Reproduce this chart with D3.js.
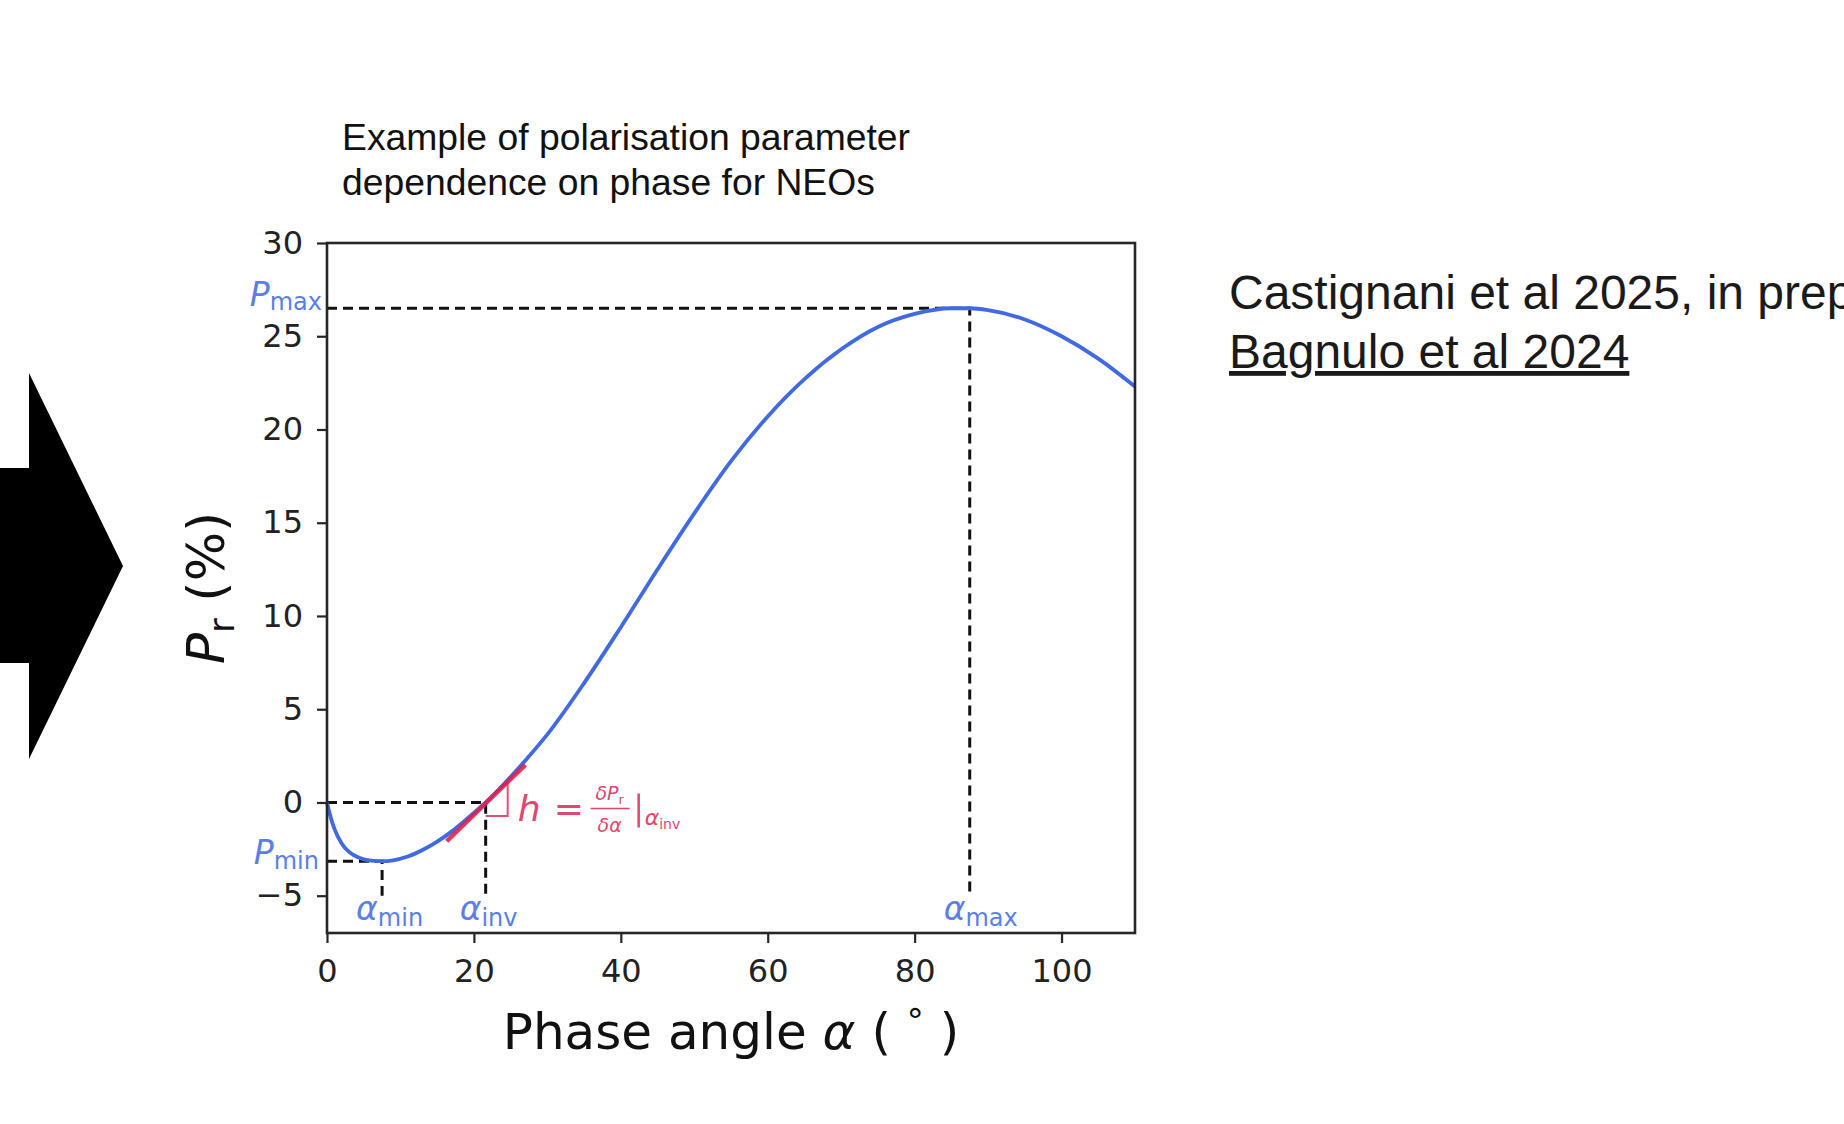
<!DOCTYPE html>
<html>
<head>
<meta charset="utf-8">
<script src="https://cdn.jsdelivr.net/npm/d3@7"></script>
<style>
  body { margin: 0; background: #fff; }
  svg { display: block; }
</style>
</head>
<body>
<div class="graph"></div>
<script>
const width = 1844,
      height = 1124;

// curve
const phaseAngle   = [0, 0.5, 1, 2, 3, 4, 5, 6, 7.5, 9, 11, 13, 15, 17, 19, 21.6, 24, 27, 30, 35, 40, 45, 50, 55, 60, 65, 70, 75, 80, 85, 87.5, 90, 95, 100, 105, 110];
const polarisation = [0, -0.8, -1.4, -2.2, -2.65, -2.9, -3.05, -3.12, -3.15, -3.1, -2.9, -2.55, -2.1, -1.55, -0.9, 0, 0.95, 2.25, 3.65, 6.4, 9.4, 12.5, 15.5, 18.3, 20.7, 22.7, 24.3, 25.5, 26.2, 26.5, 26.5, 26.4, 25.9, 25.0, 23.8, 22.3];

const xTicks = [0, 20, 40, 60, 80, 100];
const yTicks = [-5, 0, 5, 10, 15, 20, 25, 30];

// marked parameters
const alphaMin = 7.5,  pMin = -3.15;
const alphaInv = 21.6;
const alphaMax = 87.5, pMax = 26.5;
const guideBottom = -5;

// tangent at the inversion angle
const tangentAlpha = [16.3, 27.0];
const tangentP     = [-2.08, 2.02];
const cornerAlpha  = [alphaInv, 24.6, 24.6];
const cornerP      = [-0.73, -0.73, 1.1];

const titleLines = ["Example of polarisation parameter", "dependence on phase for NEOs"];
const refLines   = ["Castignani et al 2025, in prep", "Bagnulo et al 2024"];

const blue = "#4169e1",
      labelBlue = "#5b7fe6",
      red = "#e0204e",
      axisColor = "#262626";

const margin = { left: 327, right: 1135, top: 243, bottom: 933 };

const svg = d3.select(".graph")
  .append("svg")
  .attr("width", width)
  .attr("height", height)
  .style("background", "#fff");

// big arrow on the left edge
svg.append("path")
  .attr("d", "M0,468 L29,468 L29,373 L123,566 L29,759 L29,663 L0,663 Z")
  .attr("fill", "#000");

const xScale = d3.scaleLinear().domain([0, 110]).range([margin.left, margin.right]);
const yScale = d3.scaleLinear().domain([-7, 30]).range([margin.bottom, margin.top]);

const line = d3.line()
  .x(d => xScale(d[0]))
  .y(d => yScale(d[1]));

// dashed guides
const guides = [
  [[0, pMax], [alphaMax, pMax], [alphaMax, guideBottom]],
  [[0, pMin], [alphaMin, pMin], [alphaMin, guideBottom]],
  [[0, 0], [alphaInv, 0], [alphaInv, guideBottom]]
];
svg.selectAll(".guide")
  .data(guides)
  .enter()
  .append("path")
  .attr("class", "guide")
  .attr("d", line)
  .attr("fill", "none")
  .attr("stroke", "#111")
  .attr("stroke-width", 3)
  .attr("stroke-dasharray", "10,6");

// the curve
const curve = phaseAngle.map((a, i) => [a, polarisation[i]]);
svg.append("path")
  .datum(curve)
  .attr("d", line.curve(d3.curveMonotoneX))
  .attr("fill", "none")
  .attr("stroke", blue)
  .attr("stroke-width", 3.8);
line.curve(d3.curveLinear);

// tangent + right angle marker
svg.append("path")
  .datum(tangentAlpha.map((a, i) => [a, tangentP[i]]))
  .attr("d", line)
  .attr("stroke", red)
  .attr("stroke-width", 4.5)
  .attr("stroke-opacity", 0.9);
svg.append("path")
  .datum(cornerAlpha.map((a, i) => [a, cornerP[i]]))
  .attr("d", line)
  .attr("fill", "none")
  .attr("stroke", red)
  .attr("stroke-opacity", 0.8)
  .attr("stroke-width", 2);

// frame
svg.append("rect")
  .attr("x", margin.left)
  .attr("y", margin.top)
  .attr("width", margin.right - margin.left)
  .attr("height", margin.bottom - margin.top)
  .attr("fill", "none")
  .attr("stroke", axisColor)
  .attr("stroke-width", 2.6);

const xAxis = d3.axisBottom(xScale).tickValues(xTicks).tickSize(10).tickPadding(16);
const yAxis = d3.axisLeft(yScale).tickValues(yTicks).tickSize(10).tickPadding(14)
  .tickFormat(d => d < 0 ? "\u2212" + Math.abs(d) : d);

svg.append("g")
  .attr("id", "x-axis")
  .attr("transform", `translate(0, ${margin.bottom})`)
  .call(xAxis);
svg.append("g")
  .attr("id", "y-axis")
  .attr("transform", `translate(${margin.left}, 0)`)
  .call(yAxis);

svg.selectAll("#x-axis, #y-axis")
  .call(g => g.select(".domain").remove())
  .call(g => g.selectAll(".tick line").attr("stroke", axisColor).attr("stroke-width", 2.2))
  .call(g => g.selectAll(".tick text")
    .attr("fill", "#222")
    .style("font-family", "'DejaVu Sans'")
    .style("font-size", "32px"));

// axis titles
const xLabel = svg.append("text")
  .attr("x", (margin.left + margin.right) / 2)
  .attr("y", 1049)
  .attr("text-anchor", "middle")
  .attr("fill", "#111")
  .style("font-family", "'DejaVu Sans'")
  .style("font-size", "50px");
xLabel.append("tspan").text("Phase angle ");
xLabel.append("tspan").attr("font-style", "italic").text("\u03b1");
xLabel.append("tspan").text(" ( ");
xLabel.append("tspan").attr("dy", -16).style("font-size", "34px").text("\u00b0");
xLabel.append("tspan").attr("dy", 16).text(" )");

const yLabel = svg.append("text")
  .attr("transform", `translate(224, ${(margin.top + margin.bottom) / 2}) rotate(-90)`)
  .attr("text-anchor", "middle")
  .attr("fill", "#111")
  .style("font-family", "'DejaVu Sans'")
  .style("font-size", "52px");
yLabel.append("tspan").attr("font-style", "italic").text("P");
yLabel.append("tspan").attr("dy", 10).style("font-size", "36px").text("r");
yLabel.append("tspan").attr("dy", -10).text(" (%)");

// blue parameter labels
function subLabel(x, y, main, sub, anchor, italicMain, subDy) {
  const t = svg.append("text")
    .attr("x", x)
    .attr("y", y)
    .attr("text-anchor", anchor)
    .attr("fill", labelBlue)
    .style("font-family", "'DejaVu Sans'")
    .style("font-size", "33px");
  t.append("tspan").attr("font-style", italicMain ? "italic" : null).text(main);
  t.append("tspan").attr("dy", subDy).style("font-size", "24px").text(sub);
  return t;
}
subLabel(margin.left - 5, yScale(pMax) - 2, "P", "max", "end", true, 4);
subLabel(margin.left - 8, yScale(pMin) + 3, "P", "min", "end", true, 5);
[[alphaMin, "min"], [alphaInv, "inv"], [alphaMax, "max"]].forEach(([a, s]) => {
  subLabel(xScale(a) - 26, yScale(-6.3), "\u03b1", s, "start", true, 6);
});

// formula for h
const fx = xScale(alphaInv) + 32,
      fy = yScale(0) + 19;
const red2 = "#e2456f";
const formula = svg.append("g").attr("fill", red2).style("font-family", "'DejaVu Sans'");
formula.append("text").attr("x", fx).attr("y", fy).attr("font-style", "italic").style("font-size", "36px").text("h");
formula.append("text").attr("x", fx + 36).attr("y", fy).style("font-size", "36px").text("=");
const num = formula.append("text").attr("x", fx + 92).attr("y", fy - 21).attr("text-anchor", "middle").style("font-size", "19px");
num.append("tspan").attr("font-style", "italic").text("\u03b4P");
num.append("tspan").attr("dy", 4).style("font-size", "13px").text("r");
formula.append("text").attr("x", fx + 92).attr("y", fy + 11).attr("text-anchor", "middle").attr("font-style", "italic").style("font-size", "19px").text("\u03b4\u03b1");
formula.append("line")
  .attr("x1", fx + 73).attr("x2", fx + 112)
  .attr("y1", fy - 13).attr("y2", fy - 13)
  .attr("stroke", red2).attr("stroke-width", 1.5);
formula.append("line")
  .attr("x1", fx + 121).attr("x2", fx + 121)
  .attr("y1", fy - 28).attr("y2", fy + 6)
  .attr("stroke", red2).attr("stroke-width", 2.5);
const sub = formula.append("text").attr("x", fx + 127).attr("y", fy + 4).style("font-size", "22px");
sub.append("tspan").attr("font-style", "italic").text("\u03b1");
sub.append("tspan").attr("dy", 4).style("font-size", "14px").text("inv");

// title
svg.append("g")
  .selectAll("text")
  .data(titleLines)
  .enter()
  .append("text")
  .attr("x", 342)
  .attr("y", (d, i) => 150 + i * 45)
  .attr("fill", "#111")
  .style("font-family", "'Liberation Sans', Arial, sans-serif")
  .style("font-size", "37.3px")
  .text(d => d);

// reference text on the right
svg.append("g")
  .selectAll("text")
  .data(refLines)
  .enter()
  .append("text")
  .attr("x", 1229)
  .attr("y", (d, i) => 309 + i * 59)
  .attr("fill", "#1a1a1a")
  .style("font-family", "'Liberation Sans', Arial, sans-serif")
  .style("font-size", "48px")
  .attr("text-decoration", (d, i) => i === 1 ? "underline" : null)
  .text(d => d);
</script>
</body>
</html>
